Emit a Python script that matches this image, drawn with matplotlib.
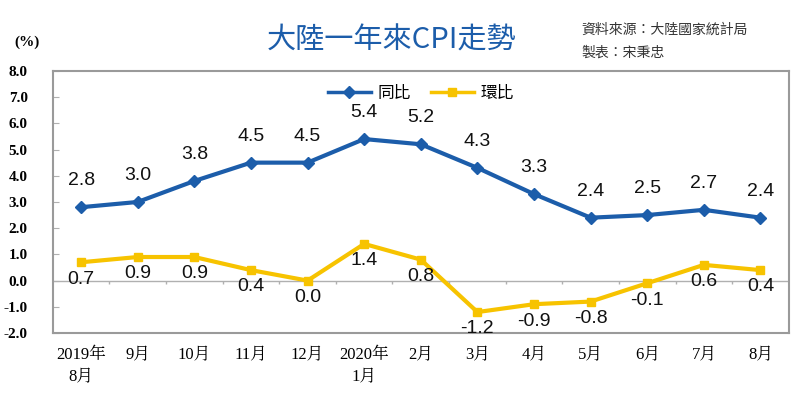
import numpy as np
import matplotlib
matplotlib.use("Agg")
import matplotlib.pyplot as plt

plt.rcParams['font.family'] = ['Liberation Sans', 'Noto Sans CJK TC']

months = ["2019年\n8月", "9月", "10月", "11月", "12月", "2020年\n1月", "2月",
          "3月", "4月", "5月", "6月", "7月", "8月"]
yoy = [2.8, 3.0, 3.8, 4.5, 4.5, 5.4, 5.2, 4.3, 3.3, 2.4, 2.5, 2.7, 2.4]
mom = [0.7, 0.9, 0.9, 0.4, 0.0, 1.4, 0.8, -1.2, -0.9, -0.8, -0.1, 0.6, 0.4]
yticks = [8.0, 7.0, 6.0, 5.0, 4.0, 3.0, 2.0, 1.0, 0.0, -1.0, -2.0]

blue = "#1c5daa"
yellow = "#f7c300"
serif = ['Liberation Serif', 'Noto Serif CJK TC', 'Noto Sans CJK TC']

fig = plt.figure(figsize=(8, 3.96), dpi=100)
ax = fig.add_axes([0.066, 0.159, 0.92, 0.662])
x = np.arange(len(months))

ax.axhline(0, color="#b0b0b0", lw=1, zorder=1)
ax.vlines(x[:-1] + 0.5, -0.12, 0, color="#b0b0b0", lw=1, zorder=1)

ax.plot(x, yoy, color=blue, lw=3, marker="D", ms=6, label="同比", zorder=3)
ax.plot(x, mom, color=yellow, lw=3, marker="s", ms=6, label="環比", zorder=3)

for xi, v in zip(x, yoy):
    ax.annotate(f"{v:.1f}", (xi, v), xytext=(0, 13), textcoords="offset points",
                ha="center", va="bottom", fontsize=14, color="#111111")
for xi, v in zip(x, mom):
    ax.annotate(f"{v:.1f}", (xi, v), xytext=(0, -6), textcoords="offset points",
                ha="center", va="top", fontsize=14, color="#111111")

ax.set_xlim(-0.5, len(months) - 0.5)
ax.set_ylim(-2, 8)
ax.set_yticks(yticks)
ax.set_yticklabels([f"{t:.1f}" for t in yticks], family=serif, fontweight="bold", fontsize=11)
ax.set_xticks(x)
ax.set_xticklabels(months, family=serif, fontsize=12, linespacing=1.5)
ax.tick_params(axis="x", length=0, pad=10)
ax.tick_params(axis="y", length=4, direction="in", color="#b0b0b0", pad=18)
for s in ax.spines.values():
    s.set_color("#9a9a9a")
    s.set_linewidth(1.5)

leg = ax.legend(loc="upper center", bbox_to_anchor=(0.5, 1.0), ncol=2, frameon=False,
                fontsize=12, handlelength=2.6, columnspacing=1.2, handletextpad=0.4)
for h in leg.get_lines():
    h.set_linewidth(2.5)

fig.text(0.018, 0.885, "(%)", family=serif, fontweight="bold", fontsize=11)
fig.text(0.49, 0.898, "大陸一年來CPI走勢", color=blue, fontsize=21, ha="center", va="center",
         family=['Noto Sans CJK TC', 'DejaVu Sans'])
fig.text(0.727, 0.925, "資料來源：大陸國家統計局", color="#333333", fontsize=10, va="center",
         family=['Noto Sans CJK TC'])
fig.text(0.727, 0.867, "製表：宋秉忠", color="#333333", fontsize=10, va="center",
         family=['Noto Sans CJK TC'])

fig.savefig("out.png", dpi=100)
